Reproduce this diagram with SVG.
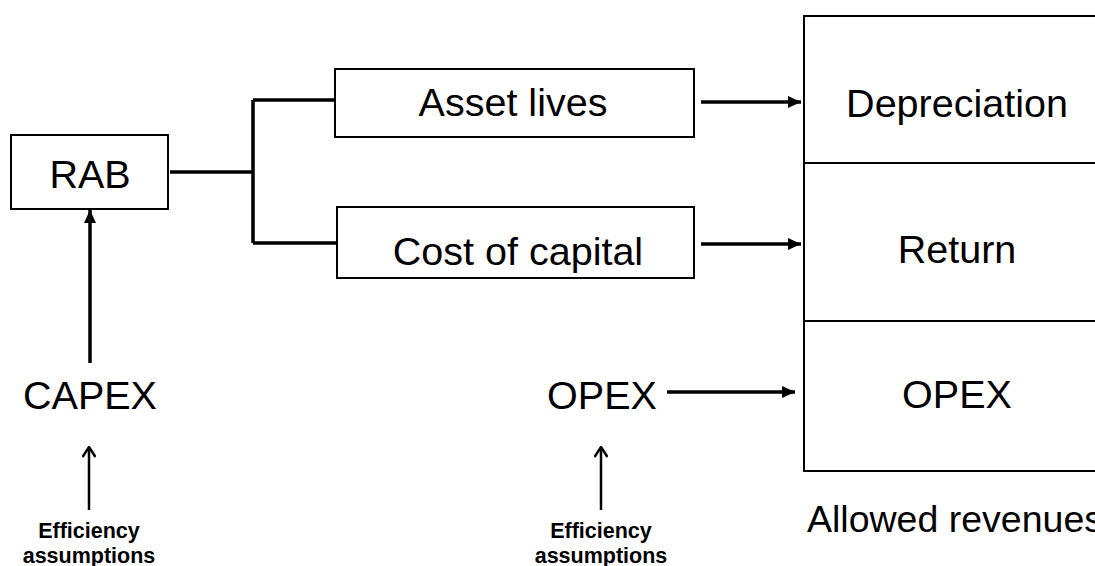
<svg xmlns="http://www.w3.org/2000/svg" width="1095" height="566" viewBox="0 0 1095 566">
<style>
.box{fill:#fff;stroke:#000;stroke-width:2}
.t{font-family:"Liberation Sans",Arial,sans-serif;font-size:39.5px;fill:#000;text-anchor:middle}
.s{font-family:"Liberation Sans",Arial,sans-serif;font-size:21.5px;font-weight:bold;fill:#000;text-anchor:middle}
.c{fill:none;stroke:#000;stroke-width:3.5}
.e{fill:none;stroke:#000;stroke-width:2.5}
</style>
<defs>
<marker id="tri" viewBox="0 0 13 12" markerWidth="13" markerHeight="12" refX="13" refY="6" orient="auto" markerUnits="userSpaceOnUse">
<path d="M0,0 L13,6 L0,12 z" fill="#000"/>
</marker>
<marker id="chev" viewBox="0 0 14 14" markerWidth="14" markerHeight="14" refX="13" refY="7" orient="auto" markerUnits="userSpaceOnUse">
<path d="M3,0.5 L13,7 L3,13.5" fill="none" stroke="#000" stroke-width="2.5"/>
</marker>
</defs>
<rect width="1095" height="566" fill="#fff"/>
<g id="connectors">
<path class="c" d="M170,172 H253 M253,100 V243 M253,100 H335 M253,243 H337"/>
<line class="c" x1="90" y1="363" x2="90" y2="210" marker-end="url(#tri)"/>
<line class="c" x1="701" y1="102" x2="801" y2="102" marker-end="url(#tri)"/>
<line class="c" x1="701" y1="244" x2="801" y2="244" marker-end="url(#tri)"/>
<line class="c" x1="667" y1="392" x2="795" y2="392" marker-end="url(#tri)"/>
<line class="e" x1="89" y1="510" x2="89" y2="447" marker-end="url(#chev)"/>
<line class="e" x1="601" y1="510" x2="601" y2="447" marker-end="url(#chev)"/>
</g>
<g id="rab">
<rect class="box" x="11" y="135" width="157" height="74"/>
<text class="t" x="90" y="188">RAB</text>
</g>
<g id="asset-lives">
<rect class="box" x="335" y="69" width="359" height="68"/>
<text class="t" x="513" y="116">Asset lives</text>
</g>
<g id="cost-of-capital">
<rect class="box" x="337" y="207" width="357" height="71"/>
<text class="t" x="518" y="265">Cost of capital</text>
</g>
<g id="capex">
<text class="t" x="90" y="409">CAPEX</text>
</g>
<g id="opex-input">
<text class="t" x="602" y="409">OPEX</text>
</g>
<g id="eff-capex">
<text class="s" x="89" y="538">Efficiency</text>
<text class="s" x="89" y="563">assumptions</text>
</g>
<g id="eff-opex">
<text class="s" x="601" y="538">Efficiency</text>
<text class="s" x="601" y="563">assumptions</text>
</g>
<g id="allowed-revenues">
<rect class="box" x="804" y="16" width="306" height="147"/>
<text class="t" x="957" y="117">Depreciation</text>
<rect class="box" x="804" y="163" width="306" height="158"/>
<text class="t" x="957" y="263">Return</text>
<rect class="box" x="804" y="321" width="306" height="150"/>
<text class="t" x="957" y="408">OPEX</text>
<text x="807" y="532" font-family="Liberation Sans, Arial, sans-serif" font-size="37.5">Allowed revenues</text>
</g>
</svg>
